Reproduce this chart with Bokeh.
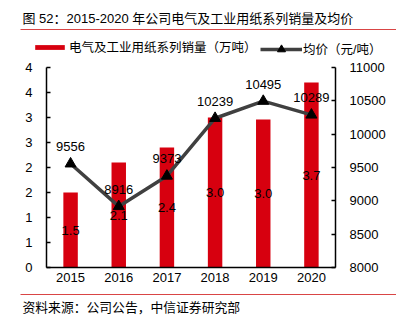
import numpy as np
from bokeh.plotting import figure
from bokeh.layouts import column
from bokeh.models import (FactorRange, Range1d, LinearAxis, FixedTicker, CustomJSTickFormatter,
                          Legend, LegendItem, ColumnDataSource)
from bokeh.core.properties import value
from bokeh.embed import file_html
from bokeh.resources import INLINE

# ---- data ----
years = ["2015", "2016", "2017", "2018", "2019", "2020"]
volume = [1.5, 2.1, 2.4, 3.0, 2.96, 3.7]            # 万吨
volume_labels = ["1.5", "2.1", "2.4", "3.0", "3.0", "3.7"]
price = [9556, 8916, 9373, 10239, 10495, 10289]      # 元/吨
price_labels = ["9556", "8916", "9373", "10239", "10495", "10289"]
left_ticks = [0, 0.5, 1, 1.5, 2, 2.5, 3, 3.5, 4]
right_ticks = [8000, 8500, 9000, 9500, 10000, 10500, 11000]
title_text = "图 52：2015-2020 年公司电气及工业用纸系列销量及均价"
source_text = "资料来源：公司公告，中信证券研究部"
bar_name = "电气及工业用纸系列销量（万吨）"
line_name = "均价（元/吨）"

RED = "#d7000f"
RULE = "#d94545"
LINE = "#404040"
NUM_FONT = "Liberation Sans"
MIX_FONT = "Liberation Sans, Noto Sans CJK SC"
W = 396


def blank(height):
    f = figure(width=W, height=height, x_range=Range1d(0, W), y_range=Range1d(0, height),
               output_backend="svg", toolbar_location=None, x_axis_location=None,
               y_axis_location=None, min_border=0, frame_align=False)
    f.outline_line_color = None
    f.xgrid.visible = False
    f.ygrid.visible = False
    return f


# ---- main chart ----
src = ColumnDataSource(dict(
    year=years, volume=volume, vmid=[v / 2 for v in volume], vlab=volume_labels,
    price=price, plab=price_labels,
))

p = figure(width=W, height=232, x_range=FactorRange(*years), y_range=Range1d(0, 4),
           output_backend="svg", toolbar_location=None, frame_align=False,
           min_border_left=46, min_border_right=61, min_border_top=7, min_border_bottom=25)
p.extra_y_ranges = {"price": Range1d(8000, 11000)}
p.outline_line_color = None
p.xgrid.visible = False
p.ygrid.visible = False

ya = p.yaxis[0]
ya.ticker = FixedTicker(ticks=left_ticks)
ya.formatter = CustomJSTickFormatter(code="return Math.round(tick).toFixed(0);")
ra = LinearAxis(y_range_name="price", ticker=FixedTicker(ticks=right_ticks))
p.add_layout(ra, "right")
for ax in (ya, ra):
    ax.major_tick_in = 4
    ax.major_tick_out = 0
    ax.minor_tick_line_color = None
    ax.major_tick_line_width = 1.5
    ax.major_label_standoff = 14

xa = p.xaxis[0]
xa.major_tick_in = 0
xa.major_tick_out = 0
xa.major_tick_line_color = None
xa.major_label_standoff = 5
for ax in (ya, ra, xa):
    ax.axis_line_width = 1.5
    ax.axis_line_color = "black"
    ax.major_label_text_font = NUM_FONT
    ax.major_label_text_font_size = "13px"
    ax.major_label_text_color = "black"

bars = p.vbar(x="year", top="volume", width=0.3, source=src, fill_color=RED, line_color=None)
p.text(x="year", y="vmid", text="vlab", source=src, text_align="center", text_baseline="middle",
       text_font=value(NUM_FONT), text_font_size="13px", text_color="black")
ln = p.line(x="year", y="price", source=src, y_range_name="price", line_color=LINE, line_width=3.5)
mk = p.scatter(x="year", y="price", source=src, y_range_name="price", marker="triangle",
               size=11, fill_color="black", line_color="black")
p.text(x="year", y="price", text="plab", source=src, y_range_name="price", text_align="center",
       text_baseline="middle", y_offset=-17, text_font=value(NUM_FONT), text_font_size="13px",
       text_color="black")

# ---- header: title, rule, legend ----
h = blank(60)
h.text(x=[22], y=[42], text=[title_text], text_baseline="middle", text_font=value(MIX_FONT),
       text_font_size="13px", text_color="black")
h.segment(x0=[20], x1=[W], y0=[31], y1=[31], line_color=RULE, line_width=1)
# legend keys: renderers with no visible data (NaN), drawn only in the legend
key_src = ColumnDataSource(dict(x=np.array([np.nan]), y=np.array([np.nan])))
kb = h.vbar(x="x", top="y", width=1, source=key_src, fill_color=RED, line_color=None)
kl = h.line(x="x", y="y", source=key_src, line_color=LINE, line_width=3.5)
km = h.scatter(x="x", y="y", source=key_src, marker="triangle", fill_color="black",
               line_color="black")
common = dict(label_standoff=1, padding=0, margin=0, spacing=0, border_line_color=None,
              background_fill_alpha=0, label_text_font=MIX_FONT,
              label_text_font_size="12.5px", label_text_color="black")
h.add_layout(Legend(items=[LegendItem(label=value(bar_name), renderers=[kb], index=0)],
                    location=(31, 4), glyph_width=37, glyph_height=6, **common))
h.add_layout(Legend(items=[LegendItem(label=value(line_name), renderers=[kl, km], index=0)],
                    location=(260, 1.5), glyph_width=42, glyph_height=20, **common))

# ---- footer: rule, source ----
ft = blank(35)
ft.segment(x0=[20], x1=[W], y0=[33], y1=[33], line_color=RULE, line_width=1)
ft.text(x=[22], y=[20], text=[source_text], text_baseline="middle", text_font=value(MIX_FONT),
        text_font_size="12.8px", text_color="black")

layout = column(h, p, ft, spacing=0)
open("out.html", "w").write(file_html(layout, INLINE))
